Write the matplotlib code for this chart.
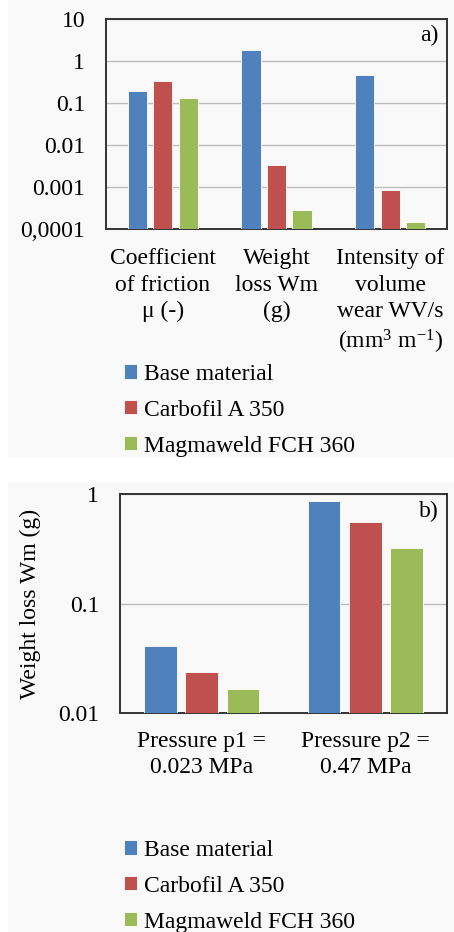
import matplotlib.pyplot as plt
from matplotlib.patches import Rectangle
import numpy as np

plt.rcParams['font.family'] = ['Liberation Serif', 'DejaVu Serif']
plt.rcParams['mathtext.fontset'] = 'custom'
plt.rcParams['mathtext.rm'] = 'Liberation Serif'
plt.rcParams['mathtext.it'] = 'Liberation Serif:italic'

# data
series = ["Base material", "Carbofil A 350", "Magmaweld FCH 360"]
colors = ["#4f81bd", "#c0504d", "#9bbb59"]

cats_a = ["Coefficient\nof friction\nμ (-)",
          "Weight\nloss Wm\n(g)",
          "Intensity of\nvolume\nwear WV/s\n(mm$^{3}$ m$^{-1}$)"]
base_a = [0.197, 1.8, 0.455]
carb_a = [0.327, 0.0033, 0.00083]
magm_a = [0.129, 0.00029, 0.00015]

cats_b = ["Pressure p1 =\n0.023 MPa", "Pressure p2 =\n0.47 MPa"]
base_b = [0.041, 0.863]
carb_b = [0.0237, 0.552]
magm_b = [0.0164, 0.32]

ticks_a = [0.0001, 0.001, 0.01, 0.1, 1, 10]
ticklab_a = ["0,0001", "0.001", "0.01", "0.1", "1", "10"]
ticks_b = [0.01, 0.1, 1]
ticklab_b = ["0.01", "0.1", "1"]

W, H = 454, 932
fig = plt.figure(figsize=(W / 100, H / 100), dpi=100)
fig.patch.set_facecolor("white")
bg = "#f9f9f9"
# panel backgrounds
fig.patches.append(Rectangle((8 / W, 1 - 457 / H), 1, 457 / H, transform=fig.transFigure,
                             facecolor=bg, edgecolor="none", zorder=-10))
fig.patches.append(Rectangle((8 / W, 0), 1, 1 - 482 / H, transform=fig.transFigure,
                             facecolor=bg, edgecolor="none", zorder=-10))

FS = 17


def panel(rect, cats, vals, step, width, ylim, ticks, ticklab, tag, xpad):
    ax = fig.add_axes(rect)
    ax.set_facecolor(bg)
    x = np.arange(len(cats))
    for i, (v, c, name) in enumerate(zip(vals, colors, series)):
        ax.bar(x + (i - 1) * step, v, width, color=c, label=name,
               edgecolor="white", linewidth=0.6, zorder=3)
    ax.set_yscale("log")
    ax.set_ylim(*ylim)
    ax.set_xlim(-0.5, len(cats) - 0.5)
    ax.set_yticks(ticks)
    ax.set_yticklabels(ticklab, fontsize=FS)
    ax.minorticks_off()
    ax.tick_params(axis="y", length=0, pad=15)
    ax.set_xticks(x)
    ax.set_xticklabels(cats, fontsize=FS, linespacing=1.32)
    ax.tick_params(axis="x", length=0, pad=xpad)
    ax.grid(axis="y", color="#bdbdbd", linewidth=1, zorder=0)
    for s in ax.spines.values():
        s.set_color("#333333")
        s.set_linewidth(1.4)
    ax.text(0.975, 0.92, tag, transform=ax.transAxes, ha="right", va="center", fontsize=FS)
    return ax


ax1 = panel([106 / W, 1 - 229 / H, 341 / W, 210 / H], cats_a, [base_a, carb_a, magm_a],
            0.224, 0.17, (0.0001, 10), ticks_a, ticklab_a, "a)", 14)
ax2 = panel([120 / W, 1 - 713 / H, 327 / W, 219 / H], cats_b, [base_b, carb_b, magm_b],
            0.252, 0.20, (0.01, 1), ticks_b, ticklab_b, "b)", 13)
ax2.set_ylabel("Weight loss Wm (g)", fontsize=FS, labelpad=12)

h, l = ax1.get_legend_handles_labels()
for y0 in (1 - 352 / H, 1 - 828 / H):
    fig.legend(h, l, loc="upper left", bbox_to_anchor=(112 / W, y0), frameon=False,
               fontsize=FS, handlelength=0.55, handleheight=0.55, handletextpad=0.3,
               labelspacing=0.63, borderpad=0)

fig.savefig("out.png", dpi=100, facecolor=fig.get_facecolor())
